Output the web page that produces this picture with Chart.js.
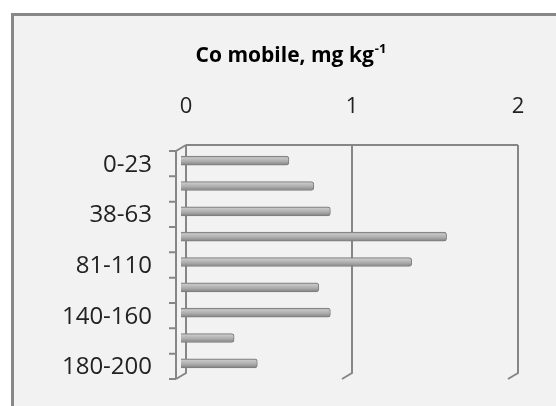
<!DOCTYPE html>
<html>
<head>
<meta charset="utf-8">
<script src="https://cdn.jsdelivr.net/npm/chart.js@4/dist/chart.umd.min.js"></script>
<style>
  html, body { margin: 0; padding: 0; background: #fff; }
  #frame {
    position: absolute; left: 11px; top: 13px; width: 560px; height: 410px;
    background: #f2f2f2; border: 3px solid #888888;
  }
  #wrap { position: absolute; left: 0; top: 0; width: 556px; height: 406px; }
</style>
</head>
<body>
<div id="frame"></div>
<div id="wrap"><canvas id="myChart" width="556" height="406"></canvas></div>
<script>
// depth intervals (cm) and mobile Co
const depths = ['0-23', '23-38', '38-63', '63-81', '81-110', '110-140', '140-160', '160-180', '180-200'];
const coMobile = [0.65, 0.80, 0.90, 1.60, 1.39, 0.83, 0.90, 0.32, 0.46];
const xTicks = [0, 1, 2];
const titleMain = 'Co mobile, mg kg';
const titleSup = '-1';

const FONT = "'Open Sans', 'DejaVu Sans', sans-serif";
const LINE = '#868686';
const DX = 5, DY = 3; // half depth of the 3d box

// back wall + front axis, drawn from the scales
const box3d = {
  id: 'box3d',
  beforeDatasetsDraw(chart) {
    const x = chart.scales.x, c = chart.ctx;
    const top = chart.chartArea.top, bottom = chart.chartArea.bottom;
    c.save();
    c.strokeStyle = LINE;
    c.lineWidth = 2;
    c.beginPath();
    c.moveTo(x.getPixelForValue(0) + DX, top - DY);
    c.lineTo(x.getPixelForValue(2) + DX, top - DY);
    xTicks.forEach(v => {
      const px = x.getPixelForValue(v);
      c.moveTo(px + DX, top - DY);
      c.lineTo(px + DX, bottom - DY);
      c.lineTo(px - DX, bottom + DY);
    });
    // front axis with category ticks
    const fx = x.getPixelForValue(0) - DX;
    c.moveTo(fx + 2 * DX, top - DY);
    c.lineTo(fx, top + DY);
    c.lineTo(fx, bottom + DY);
    const step = (bottom - top) / depths.length;
    for (let i = 0; i <= depths.length; i++) {
      const ty = top + DY + i * step;
      c.moveTo(fx, ty);
      c.lineTo(fx - 7, ty);
    }
    c.stroke();
    c.restore();
  }
};

// title with a real superscript
const supTitle = {
  id: 'supTitle',
  afterDraw(chart) {
    const c = chart.ctx;
    c.save();
    c.fillStyle = '#000';
    c.textBaseline = 'alphabetic';
    c.font = "bold 21px " + FONT;
    const w1 = c.measureText(titleMain).width;
    c.font = "bold 13px " + FONT;
    const w2 = c.measureText(titleSup).width;
    const x0 = 291 - (w1 + w2 + 1) / 2;
    c.font = "bold 21px " + FONT;
    c.fillText(titleMain, x0, 61.5);
    c.font = "bold 13px " + FONT;
    c.fillText(titleSup, x0 + w1 + 1, 53);
    c.restore();
  }
};

function barFill(ctx) {
  const chart = ctx.chart;
  if (!chart.chartArea || !chart.scales.y) return '#aaaaaa';
  const cy = chart.scales.y.getPixelForValue(ctx.dataIndex);
  const g = chart.ctx.createLinearGradient(0, cy - 5, 0, cy + 5);
  g.addColorStop(0, '#858585');
  g.addColorStop(0.22, '#c6c6c6');
  g.addColorStop(0.6, '#aaaaaa');
  g.addColorStop(1, '#7a7a7a');
  return g;
}

new Chart(document.getElementById('myChart'), {
  type: 'bar',
  data: {
    labels: depths,
    datasets: [{
      data: coMobile,
      backgroundColor: barFill,
      borderColor: '#7e7e7e',
      borderWidth: 1,
      borderRadius: 3,
      borderSkipped: 'start',
      barThickness: 9
    }]
  },
  options: {
    indexAxis: 'y',
    responsive: false,
    animation: false,
    layout: { padding: { top: 66, left: 0, right: 43, bottom: 30 } },
    plugins: {
      legend: { display: false },
      tooltip: { enabled: false },
      title: { display: false }
    },
    scales: {
      x: {
        position: 'top',
        min: 0, max: 2,
        afterFit(s) { s.height = 82; },
        afterBuildTicks(s) { s.ticks = xTicks.map(v => ({ value: v })); },
        grid: { display: false, drawTicks: false },
        border: { display: false },
        ticks: { color: '#222', padding: 28, labelOffset: 5, font: { family: FONT, size: 22, lineHeight: 1.2 } }
      },
      y: {
        afterFit(s) { s.width = 181; s.paddingTop = 0; s.paddingBottom = 0; },
        grid: { display: false, drawTicks: false },
        border: { display: false },
        ticks: {
          autoSkip: false,
          color: '#222',
          padding: 29,
          labelOffset: 4,
          font: { family: FONT, size: 24, lineHeight: 1 },
          callback(v, i) { return i % 2 === 0 ? depths[i] : ''; }
        }
      }
    }
  },
  plugins: [box3d, supTitle]
});
</script>
</body>
</html>
